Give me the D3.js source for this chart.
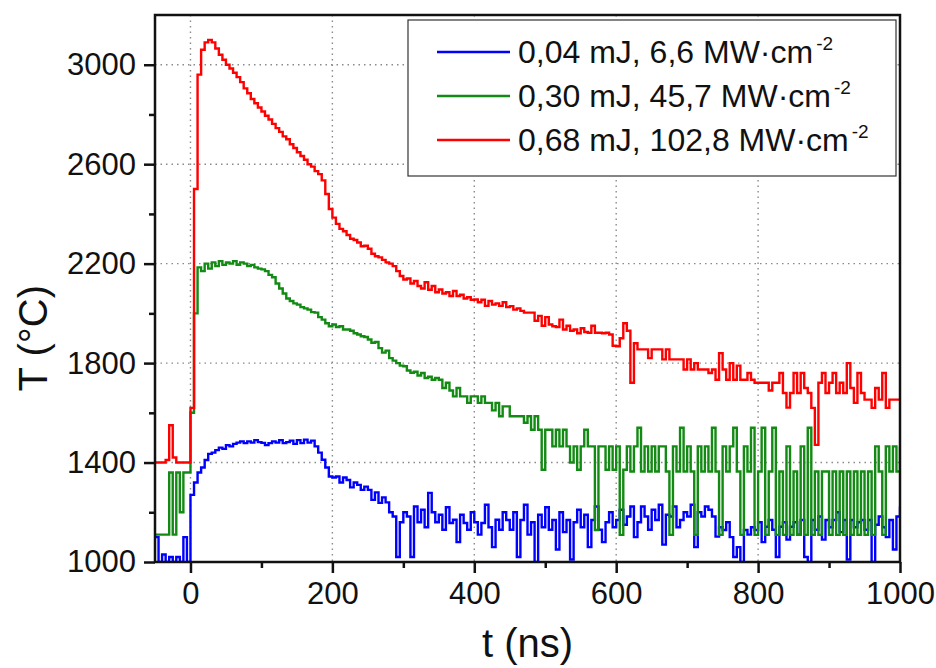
<!DOCTYPE html>
<html>
<head>
<meta charset="utf-8">
<script src="https://cdn.jsdelivr.net/npm/d3@7"></script>
<style>
  html, body { margin: 0; padding: 0; background: #fff; }
  svg { display: block; font-family: "Liberation Sans", Arial, sans-serif; }
</style>
</head>
<body>
<svg id="chart" width="936" height="668"></svg>
<script>
// Sampling grid of the pyrometer traces, ns (5 ns steps)
const timeNs = d3.range(-50, 1001, 5);

// 0,04 mJ trace (°C)
const tempLow = [
  1100, 1000, 1030, 1000, 1020, 1000, 1020, 1000, 1100, 1000, 1270, 1320, 1360, 1380, 1410, 1435, 1440, 1450, 1460, 1455,
  1470, 1465, 1475, 1480, 1485, 1478, 1485, 1480, 1490, 1482, 1479, 1470, 1478, 1485, 1480, 1490, 1478, 1482, 1488, 1475,
  1490, 1478, 1492, 1480, 1488, 1465, 1440, 1411, 1380, 1344, 1340, 1344, 1320, 1340, 1330, 1300, 1320, 1310, 1290, 1303,
  1290, 1250, 1280, 1238, 1260, 1240, 1200, 1183, 1020, 1160, 1200, 1183, 1020, 1223, 1160, 1210, 1140, 1278, 1200, 1160,
  1190, 1130, 1220, 1157, 1170, 1080, 1190, 1157, 1130, 1200, 1160, 1110, 1157, 1230, 1140, 1060, 1170, 1130, 1200, 1169,
  1130, 1200, 1020, 1169, 1230, 1110, 1160, 1000, 1190, 1140, 1220, 1130, 1169, 1050, 1200, 1120, 1169, 1010, 1160, 1210,
  1140, 1190, 1060, 1169, 1223, 1130, 1080, 1160, 1200, 1140, 1169, 1210, 1150, 1183, 1223, 1100, 1160, 1223, 1183, 1130,
  1210, 1169, 1230, 1070, 1190, 1183, 1223, 1140, 1169, 1200, 1183, 1230, 1060, 1200, 1183, 1223, 1210, 1183, 1102, 1140,
  1129, 1160, 1100, 1020, 1060, 1000, 1129, 1110, 1140, 1129, 1160, 1080, 1142, 1169, 1130, 1020, 1142, 1160, 1090, 1142,
  1160, 1110, 1169, 1020, 1000, 1169, 1130, 1183, 1090, 1169, 1140, 1169, 1200, 1120, 1169, 1010, 1169, 1140, 1160, 1169,
  1130, 1169, 1000, 1150, 1183, 1140, 1100, 1169, 1050, 1183, 1223
];

// 0,30 mJ trace (°C)
const tempMid = [
  1110, 1110, 1110, 1110, 1360, 1110, 1360, 1200, 1360, 1360, 1600, 2000, 2185, 2170, 2200, 2180, 2205, 2190, 2210, 2195,
  2205, 2200, 2210, 2195, 2205, 2200, 2190, 2195, 2185, 2180, 2177, 2170, 2155, 2145, 2120, 2100, 2080, 2060, 2050, 2040,
  2035, 2025, 2020, 2015, 2005, 2003, 1985, 1975, 1960, 1948, 1955, 1945, 1948, 1935, 1935, 1930, 1920, 1915, 1908, 1905,
  1895, 1882, 1885, 1860, 1842, 1850, 1820, 1810, 1800, 1790, 1787, 1770, 1761, 1765, 1750, 1760, 1740, 1745, 1733, 1740,
  1733, 1700, 1721, 1690, 1666, 1700, 1666, 1666, 1640, 1666, 1666, 1640, 1666, 1640, 1640, 1610, 1640, 1586, 1626, 1626,
  1586, 1586, 1586, 1586, 1560, 1586, 1532, 1586, 1532, 1371, 1532, 1532, 1465, 1532, 1465, 1532, 1465, 1400, 1465, 1371,
  1465, 1532, 1465, 1465, 1129, 1465, 1465, 1371, 1465, 1371, 1465, 1109, 1371, 1465, 1364, 1465, 1540, 1364, 1465, 1364,
  1465, 1364, 1465, 1465, 1364, 1109, 1465, 1364, 1540, 1364, 1465, 1364, 1109, 1465, 1364, 1465, 1364, 1540, 1364, 1109,
  1465, 1364, 1465, 1540, 1364, 1109, 1465, 1364, 1540, 1109, 1364, 1540, 1109, 1364, 1540, 1109, 1364, 1109, 1465, 1109,
  1364, 1109, 1465, 1109, 1540, 1109, 1364, 1109, 1364, 1364, 1109, 1364, 1109, 1364, 1109, 1364, 1109, 1364, 1109, 1364,
  1109, 1364, 1109, 1465, 1364, 1109, 1465, 1364, 1465, 1364, 1465
];

// 0,68 mJ trace (°C)
const tempHigh = [
  1400, 1400, 1400, 1410, 1550, 1420, 1400, 1400, 1400, 1400, 1620, 2500, 2960, 3060, 3090, 3100, 3090, 3065, 3040, 3020,
  3000, 2985, 2968, 2950, 2930, 2905, 2885, 2862, 2845, 2828, 2812, 2795, 2780, 2762, 2745, 2730, 2712, 2700, 2680, 2665,
  2648, 2633, 2618, 2600, 2590, 2572, 2560, 2535, 2480, 2420, 2385, 2360, 2340, 2330, 2315, 2300, 2295, 2285, 2270, 2272,
  2260, 2240, 2230, 2225, 2215, 2205, 2200, 2190, 2170, 2150, 2136, 2140, 2120, 2130, 2110, 2100, 2125, 2095, 2110, 2085,
  2096, 2080, 2085, 2070, 2090, 2070, 2075, 2060, 2065, 2055, 2056, 2045, 2055, 2030, 2050, 2035, 2040, 2030, 2045, 2025,
  2029, 2015, 2020, 2010, 2003, 2003, 2003, 1970, 1990, 1950, 1985, 1955, 1948, 1945, 1975, 1935, 1950, 1930, 1935, 1920,
  1940, 1925, 1922, 1950, 1922, 1922, 1920, 1922, 1915, 1870, 1868, 1900, 1960, 1930, 1721, 1880, 1855, 1855, 1855, 1820,
  1855, 1855, 1855, 1815, 1855, 1815, 1815, 1815, 1815, 1774, 1815, 1774, 1800, 1774, 1774, 1774, 1760, 1774, 1733, 1840,
  1774, 1733, 1800, 1733, 1790, 1733, 1733, 1760, 1733, 1721, 1721, 1721, 1721, 1690, 1721, 1721, 1760, 1680, 1621, 1680,
  1760, 1680, 1760, 1700, 1680, 1620, 1471, 1721, 1760, 1680, 1721, 1760, 1680, 1721, 1680, 1800, 1700, 1640, 1760, 1680,
  1653, 1653, 1620, 1700, 1653, 1760, 1620, 1653, 1653, 1653, 1653
];

const seriesLabels = ["0,04 mJ, 6,6 MW·cm", "0,30 mJ, 45,7 MW·cm", "0,68 mJ, 102,8 MW·cm"];
const seriesColors = ["#0000ff", "#138a13", "#ff0000"];
const xTicks = [0, 200, 400, 600, 800, 1000];
const xMinorTicks = [100, 300, 500, 700, 900];
const yTicks = [1000, 1400, 1800, 2200, 2600, 3000];
const yMinorTicks = [1200, 1600, 2000, 2400, 2800];

const series = [tempLow, tempMid, tempHigh].map((vals, i) => ({
  label: seriesLabels[i],
  color: seriesColors[i],
  points: timeNs.map((t, j) => [t, vals[j]])
}));

const svg = d3.select("#chart");
const margin = { left: 155, top: 15, right: 36, bottom: 106 };
const W = 936 - margin.left - margin.right;
const H = 668 - margin.top - margin.bottom;

const x = d3.scaleLinear().domain([-50, 1000]).range([0, W]);
const y = d3.scaleLinear().domain([1000, 3200]).range([H, 0]);

const g = svg.append("g").attr("transform", `translate(${margin.left},${margin.top})`);

svg.append("defs").append("clipPath").attr("id", "plotClip")
  .append("rect").attr("x", 0).attr("y", 0).attr("width", W).attr("height", H);

// dotted grid at the major ticks
const grid = g.append("g").attr("stroke", "#8a8a8a").attr("stroke-width", 1.4)
  .attr("stroke-dasharray", "1.5,4");
grid.selectAll("line.gx").data(xTicks.filter(d => d < 1000)).join("line")
  .attr("x1", d => x(d)).attr("x2", d => x(d)).attr("y1", 0).attr("y2", H);
grid.selectAll("line.gy").data(yTicks.filter(d => d > 1000)).join("line")
  .attr("x1", 0).attr("x2", W).attr("y1", d => y(d)).attr("y2", d => y(d));

// traces
const line = d3.line().x(d => x(d[0])).y(d => y(d[1])).curve(d3.curveStepAfter);
g.append("g").attr("clip-path", "url(#plotClip)")
  .selectAll("path").data(series).join("path")
  .attr("fill", "none")
  .attr("stroke", d => d.color)
  .attr("stroke-width", 2.4)
  .attr("stroke-linejoin", "miter")
  .attr("d", d => line(d.points));

// axes
const fontTick = 31;
const xAxis = g.append("g").attr("transform", `translate(0,${H})`)
  .call(d3.axisBottom(x).tickValues(xTicks).tickSize(11).tickPadding(9).tickFormat(d3.format("d")));
const xMinor = g.append("g").attr("transform", `translate(0,${H})`)
  .call(d3.axisBottom(x).tickValues(xMinorTicks).tickSize(6).tickFormat(""));
const yAxis = g.append("g")
  .call(d3.axisLeft(y).tickValues(yTicks).tickSize(11).tickPadding(8).tickFormat(d3.format("d")));
const yMinor = g.append("g")
  .call(d3.axisLeft(y).tickValues(yMinorTicks).tickSize(6).tickFormat(""));

[xAxis, xMinor, yAxis, yMinor].forEach(a => {
  a.select(".domain").remove();
  a.selectAll(".tick line").attr("stroke", "#111").attr("stroke-width", 2.5);
  a.selectAll(".tick text").attr("fill", "#111").attr("font-size", fontTick)
    .attr("font-family", "Liberation Sans, Arial, sans-serif");
});

// frame
g.append("rect").attr("x", 0).attr("y", 0).attr("width", W).attr("height", H)
  .attr("fill", "none").attr("stroke", "#111").attr("stroke-width", 2.5);

// axis titles
svg.append("text")
  .attr("x", margin.left + x(475)).attr("y", 657)
  .attr("text-anchor", "middle").attr("font-size", 40).attr("fill", "#111")
  .text("t (ns)");
svg.append("text")
  .attr("transform", `translate(47,${margin.top + y(1900)}) rotate(-90)`)
  .attr("text-anchor", "middle").attr("font-size", 40).attr("fill", "#111")
  .text("T (°C)");

// legend
const lg = svg.append("g").attr("transform", "translate(408,20)");
lg.append("rect").attr("x", 0).attr("y", 0).attr("width", 488).attr("height", 156)
  .attr("fill", "#fff").attr("stroke", "#333").attr("stroke-width", 1.2);
const rows = lg.selectAll("g.row").data(series).join("g")
  .attr("transform", (d, i) => `translate(0,${32 + i * 44})`);
rows.append("line").attr("x1", 29).attr("x2", 102).attr("y1", 0).attr("y2", 0)
  .attr("stroke", d => d.color).attr("stroke-width", 2.4);
const lt = rows.append("text").attr("x", 110).attr("y", 11)
  .attr("font-size", 32).attr("fill", "#111");
lt.append("tspan").text(d => d.label);
lt.append("tspan").attr("dx", 3).attr("dy", -13).attr("font-size", 19).text("-2");
</script>
</body>
</html>
